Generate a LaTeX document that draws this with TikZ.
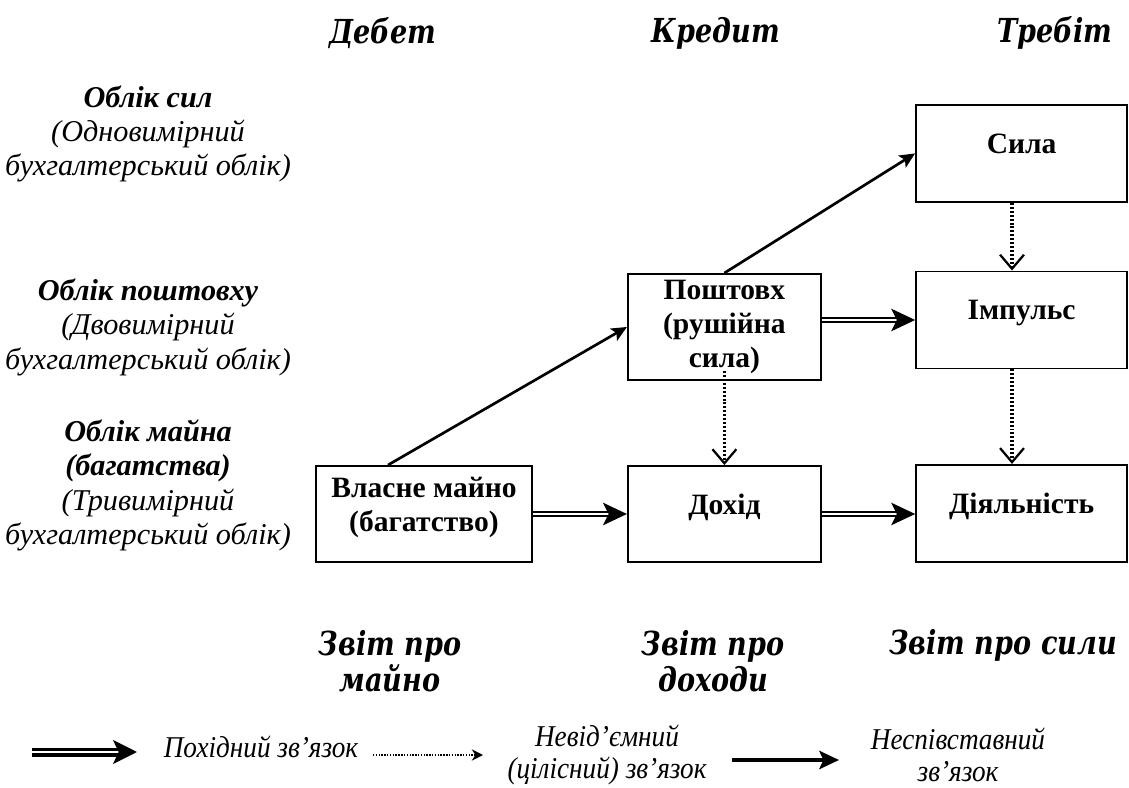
\documentclass[tikz,border=0pt]{standalone}
\usepackage{fontspec}
\setmainfont{Liberation Serif}
\newfontfamily\headfont{DejaVu Serif}[FakeStretch=0.82]
\newfontfamily\legfont{Liberation Serif}[FakeStretch=0.9]
\usetikzlibrary{arrows.meta, positioning}

\begin{document}
\begin{tikzpicture}[
    box/.style={draw, rectangle, line width=1.4pt, minimum width=5.275cm, minimum height=2.425cm, align=center, text depth=0.5cm, font=\fontsize{21}{24}\selectfont\bfseries},
    hd/.style={align=center, font=\fontsize{23.5}{26}\selectfont\headfont\bfseries\itshape},
    side/.style={align=center, font=\fontsize{21.5}{24.5}\selectfont\itshape},
    legend/.style={align=center, inner sep=1pt, font=\fontsize{21.5}{22.5}\selectfont\legfont\itshape},
    derived/.style={double, double distance=1.8pt, line width=1.5pt, -{Stealth[length=17pt, width=16pt, inset=4pt]}},
    whole/.style={line width=2.2pt, dash pattern=on 1.4pt off 1.4pt, -{Straight Barb[length=10pt, width=17pt, line width=1.6pt]}},
    incomp/.style={line width=1.9pt, -{Stealth[length=11pt, width=10pt, inset=2.5pt]}}]
    \useasboundingbox (0,0) rectangle (28.225,19.675);
    % headers
    \node[hd] (debet) at (9.575,18.85) {Дебет};
    \node[hd] (kredyt) at (17.9,18.85) {Кредит};
    \node[hd] (trebit) at (26.375,18.85) {Требіт};
    % side labels
    \node[side] (oblsyl) at (3.7,16.325) {{\bfseries Облік сил}\\(Одновимірний\\бухгалтерський облік)};
    \node[side] (oblposht) at (3.7,11.49) {{\bfseries Облік поштовху}\\(Двовимірний\\бухгалтерський облік)};
    \node[side] (oblmaina) at (3.7,7.54) {{\bfseries Облік майна}\\{\bfseries (багатства)}\\(Тривимірний\\бухгалтерський облік)};
    % boxes
    \node[box] (syla) at (25.54,15.84) {Сила};
    \node[box] (impuls) at (25.54,11.675) {Імпульс};
    \node[box] (diyal) at (25.54,6.84) {Діяльність};
    \node[box, minimum width=4.825cm, minimum height=2.65cm, text depth=] (poshtovkh) at (18.11,11.5) {Поштовх\\(рушійна\\сила)};
    \node[box, minimum width=4.825cm, minimum height=2.4cm] (dokhid) at (18.11,6.825) {Дохід};
    \node[box, minimum width=5.4cm, minimum height=2.4cm] (vlasne) at (10.6,6.825) {Власне майно\\(багатство)};
    % links
    \draw[incomp] ([xshift=-0.9cm]vlasne.north) -- (poshtovkh.west);
    \draw[incomp] (poshtovkh.north) -- (syla.west);
    \draw[whole] ([xshift=-0.24cm]syla.south) -- ([xshift=-0.24cm]impuls.north);
    \draw[whole] ([xshift=-0.24cm]impuls.south) -- ([xshift=-0.24cm]diyal.north);
    \draw[whole] ([yshift=0.25cm]poshtovkh.south) -- (dokhid.north);
    \draw[derived] (vlasne) -- (dokhid);
    \draw[derived] (poshtovkh.east |- impuls.west) -- (impuls.west);
    \draw[derived] (dokhid.east) -- (dokhid.east -| diyal.west);
    % reports
    \node[hd] (zmaino) at (9.75,3.15) {Звіт про\\майно};
    \node[hd] (zdokhody) at (17.825,3.15) {Звіт про\\доходи};
    \node[hd] (zsyly) at (25.075,3.55) {Звіт про сили};
    % legend
    \coordinate (la) at (0.8,0.875);
    \coordinate[right=2.625cm of la] (lb);
    \node[legend] (lderived) at (6.525,1.0) {Похідний зв’язок};
    \coordinate (lc) at (9.325,0.8);
    \coordinate[right=2.75cm of lc] (ld);
    \node[legend] (lwhole) at (15.175,0.8) {Невід’ємний\\(цілісний) зв’язок};
    \coordinate (le) at (18.3,0.675);
    \coordinate[right=2.675cm of le] (lf);
    \node[legend] (lincomp) at (23.95,0.8) {Неспівставний\\зв’язок};
    \draw[derived, line width=2.2pt, double distance=2pt, -{Stealth[length=17pt, width=17pt, inset=4pt]}] (la) -- (lb);
    \draw[line width=1.1pt, dash pattern=on 1pt off 1pt, -{Stealth[length=8pt, width=8pt]}] (lc) -- (ld);
    \draw[line width=2.8pt, -{Stealth[length=14pt, width=13pt, inset=3pt]}] (le) -- (lf);
\end{tikzpicture}
\end{document}
